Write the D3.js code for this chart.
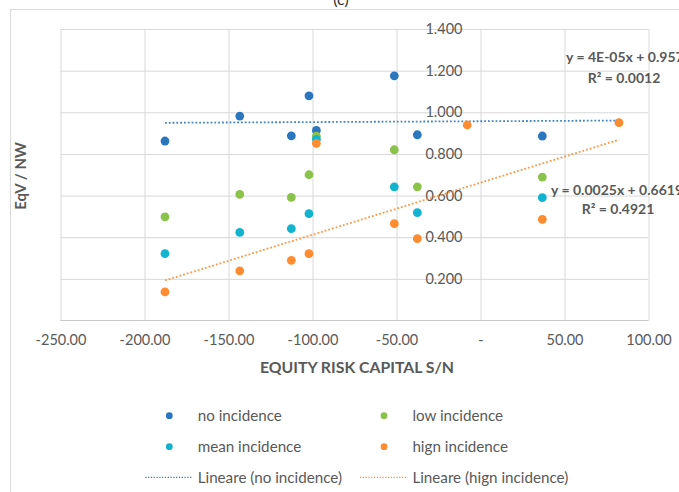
<!DOCTYPE html>
<html><head><meta charset="utf-8">
<script src="https://cdn.jsdelivr.net/npm/d3@7"></script>
<style>body{margin:0;background:#fff} svg{display:block;font-family:Lato,"Open Sans",sans-serif}</style>
</head><body><svg id="c" width="679" height="492"></svg>
<script>
// ---- data ----
const capitalSN      = [-187.8, -143.3, -112.6, -102.1, -97.7, -51.3, -37.6, -7.9, 36.8, 82.4];
const noIncidence    = [0.862, 0.982, 0.887, 1.079, 0.913, 1.175, 0.892, null, 0.886, null];
const lowIncidence   = [0.498, 0.606, 0.591, 0.700, 0.885, 0.820, 0.642, null, 0.689, null];
const meanIncidence  = [0.321, 0.423, 0.441, 0.513, 0.870, 0.642, 0.518, null, 0.590, null];
const highIncidence  = [0.137, 0.238, 0.289, 0.321, 0.851, 0.465, 0.393, 0.939, 0.486, 0.950];
const seriesNames    = ["no incidence", "low incidence", "mean incidence", "hign incidence"];
const seriesColors   = ["#2A77C0", "#8BC34A", "#12B3CF", "#FF8C30"];
const trendNames     = ["Lineare (no incidence)", "Lineare (hign incidence)"];
const trendSlopes    = [0.00004, 0.0025];
const trendIntercepts= [0.957, 0.6619];
const trendEquations = ["y = 4E-05x + 0.957", "y = 0.0025x  + 0.6619"];
const trendR2        = ["R² = 0.0012", "R² = 0.4921"];
const xTicks         = [-250, -200, -150, -100, -50, 0, 50, 100];
const xTickLabels    = ["-250.00", "-200.00", "-150.00", "-100.00", "-50.00", "-", "50.00", "100.00"];
const yTicks         = [0.2, 0.4, 0.6, 0.8, 1.0, 1.2, 1.4];
const yTickLabels    = ["0.200", "0.400", "0.600", "0.800", "1.000", "1.200", "1.400"];

const seriesValues = [noIncidence, lowIncidence, meanIncidence, highIncidence];
const svg = d3.select("#c");
const textCol = "#595959";

const x = d3.scaleLinear().domain([-250, 100]).range([60.5, 648.5]);
const y = d3.scaleLinear().domain([0, 1.4]).range([320.5, 29]);

// chart border
svg.append("rect").attr("x", 10.5).attr("y", 9.5).attr("width", 700).attr("height", 520)
  .attr("fill", "#fff").attr("stroke", "#d9d9d9");

// title (clipped at top, as in the reference)
svg.append("text").attr("x", 341).attr("y", 5).attr("text-anchor", "middle")
  .attr("font-size", 16).attr("fill", "#333").text("(c)");

// gridlines
const gx = svg.append("g").attr("transform", `translate(0,${y(0)})`)
  .call(d3.axisBottom(x).tickValues(xTicks).tickSize(-(y(0) - y(1.4))).tickFormat(""));
gx.selectAll("line").attr("stroke", "#d9d9d9");
gx.select(".domain").remove();
const gy = svg.append("g").attr("transform", `translate(${x(-250)},0)`)
  .call(d3.axisLeft(y).tickValues(yTicks).tickSize(-(x(100) - x(-250))).tickFormat(""));
gy.selectAll("line").attr("stroke", "#d9d9d9");
gy.select(".domain").remove();

// x axis line
svg.append("line").attr("x1", x(-250)).attr("x2", x(100)).attr("y1", y(0)).attr("y2", y(0))
  .attr("stroke", "#c8c8c8");

// x tick labels
const ax = svg.append("g").attr("transform", `translate(0,${y(0)})`)
  .call(d3.axisBottom(x).tickValues(xTicks).tickSize(0).tickPadding(14)
    .tickFormat((d, i) => xTickLabels[i]));
ax.select(".domain").remove();
ax.selectAll("text").attr("font-size", 14.5).attr("fill", textCol).attr("font-family", "Lato,'Open Sans',sans-serif");

// y tick labels at x = 0
const ay = svg.append("g").attr("transform", `translate(${x(0)},0)`)
  .call(d3.axisLeft(y).tickValues(yTicks).tickSize(0).tickPadding(18)
    .tickFormat((d, i) => yTickLabels[i]));
ay.select(".domain").remove();
ay.selectAll("text").attr("font-size", 14.5).attr("fill", textCol).attr("font-family", "Lato,'Open Sans',sans-serif");

// axis titles
svg.append("text").attr("x", 357).attr("y", 367).attr("dy", "0.35em").attr("text-anchor", "middle")
  .attr("font-size", 15.8).attr("font-weight", "bold").attr("fill", textCol).text("EQUITY RISK CAPITAL S/N");
svg.append("text").attr("transform", "translate(21,176) rotate(-90)").attr("dy", "0.35em")
  .attr("text-anchor", "middle").attr("font-size", 15).attr("font-weight", "bold").attr("fill", textCol)
  .text("EqV / NW");

// trendlines
const xExt = d3.extent(capitalSN);
[0, 3].forEach((si, k) => {
  const line = d3.line().x(d => x(d)).y(d => y(trendSlopes[k] * d + trendIntercepts[k]));
  svg.append("path").attr("d", line(xExt)).attr("fill", "none")
    .attr("stroke", seriesColors[si]).attr("stroke-width", 1.8)
    .attr("stroke-dasharray", "1.8,2").attr("opacity", 0.9);
});

// points
seriesValues.forEach((vals, si) => {
  const pts = capitalSN.map((cx, i) => ({ cx, v: vals[i] })).filter(d => d.v != null);
  svg.append("g").selectAll("circle").data(pts).join("circle")
    .attr("cx", d => x(d.cx)).attr("cy", d => y(d.v)).attr("r", 4.4)
    .attr("fill", seriesColors[si]);
});

// trend labels
const lbl = (tx, ty, t, anchor) => svg.append("text").attr("x", tx).attr("y", ty).attr("dy", "0.35em")
  .attr("text-anchor", anchor).attr("font-size", 14).attr("font-weight", "bold").attr("fill", textCol).text(t);
lbl(566, 57, trendEquations[0], "start");
lbl(624, 78, trendR2[0], "middle");
lbl(551, 190, trendEquations[1], "start");
lbl(618, 209, trendR2[1], "middle");

// legend
const legX = [169.3, 384], legRows = [415.7, 446.7, 477.3];
seriesNames.forEach((n, i) => {
  const col = i % 2, row = Math.floor(i / 2);
  svg.append("circle").attr("cx", legX[col]).attr("cy", legRows[row]).attr("r", 3.4).attr("fill", seriesColors[i]);
  svg.append("text").attr("x", legX[col] + 28.4).attr("y", legRows[row]).attr("dy", "0.35em")
    .attr("font-size", 15.2).attr("fill", textCol).text(n);
});
trendNames.forEach((n, k) => {
  const si = k === 0 ? 0 : 3;
  svg.append("line").attr("x1", legX[k] - 24).attr("x2", legX[k] + 22).attr("y1", legRows[2]).attr("y2", legRows[2])
    .attr("stroke", seriesColors[si]).attr("stroke-width", 1.2).attr("stroke-dasharray", "1.2,1.6");
  svg.append("text").attr("x", legX[k] + 28.4).attr("y", legRows[2]).attr("dy", "0.35em")
    .attr("font-size", 15.2).attr("fill", textCol).text(n);
});
</script></body></html>
